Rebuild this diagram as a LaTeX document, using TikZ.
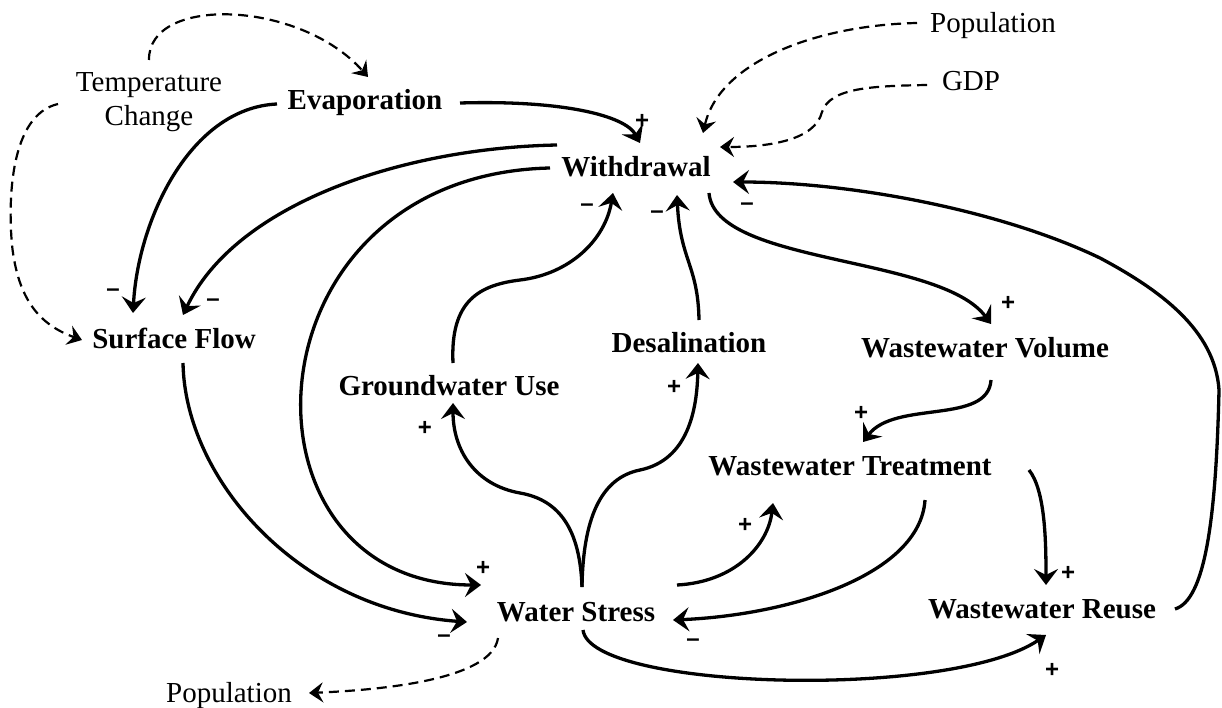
\documentclass[tikz,border=0pt]{standalone}
\usepackage{fontspec}
\setmainfont{Liberation Serif}
\newfontfamily\signfont{Liberation Sans}
\usetikzlibrary{arrows.meta,calc}
\tikzset{
  lbl/.style={inner sep=0pt, anchor=base, font=\fontsize{29}{34}\selectfont\bfseries},
  ext/.style={inner sep=0pt, anchor=base, font=\fontsize{29}{34}\selectfont},
  sgn/.style={inner sep=0pt, font=\signfont\fontsize{24}{24}\selectfont\bfseries},
  link/.style={line width=3.3pt, -{Stealth[length=16pt,width=24pt,inset=6pt]}},
  dlink/.style={line width=2.2pt, dash pattern=on 10pt off 6pt, -{Stealth[length=14pt,width=20pt,inset=5pt]}}
}
\begin{document}
\begin{tikzpicture}[x=1pt,y=-1pt]
\useasboundingbox (0,0) rectangle (1222,708);
% nodes
\node[ext, anchor=center, align=center] (tc) at (149,102) {Temperature\\Change};
\node[lbl] (ev) at (365,110) {Evaporation};
\node[lbl] (wd) at (636,177) {Withdrawal};
\node[lbl] (sf) at (174,348) {Surface Flow};
\node[lbl] (gw) at (449,395) {Groundwater Use};
\node[lbl] (de) at (689,352) {Desalination};
\node[lbl] (wv) at (985,357) {Wastewater Volume};
\node[lbl] (wt) at (850,475) {Wastewater Treatment};
\node[lbl] (wr) at (1042,618) {Wastewater Reuse};
\node[lbl] (ws) at (576,621) {Water Stress};
\node[ext] (popb) at (229,702) {Population};
\node[ext] (popt) at (993,33) {Population};
\node[ext] (gdp) at (971,91) {GDP};
% dashed links
\draw[dlink] ($(tc.center)+(0,-42)$) .. controls (148,-5) and (300,0) .. ($(ev.base)+(3,-33)$);
\draw[dlink] ($(tc.center)+(-91,2)$) .. controls (10,115) and (8,200) .. (12,245) .. controls (18,300) and (40,325) .. ($(sf.base)+(-92,-8)$);
\draw[dlink] ($(popt.base)+(-76,-10)$) .. controls (820,25) and (720,60) .. ($(wd.base)+(67,-44)$);
\draw[dlink] ($(gdp.base)+(-44,-6)$) .. controls (870,86) and (830,88) .. (822,112) .. controls (815,140) and (770,147) .. ($(wd.base)+(84,-30)$);
\draw[dlink] ($(ws.base)+(-78,17)$) .. controls (492,680) and (380,690) .. ($(popb.base)+(80,-9)$);
% solid links
\draw[link] ($(ev.base)+(95,-7)$) .. controls (560,100) and (625,115) .. ($(wd.base)+(4,-34)$);
\draw[link] ($(ev.base)+(-88,-6)$) .. controls (190,108) and (138,220) .. ($(sf.base)+(-41,-35)$);
\draw[link] ($(wd.base)+(-79,-32)$) .. controls (400,148) and (235,205) .. ($(sf.base)+(9,-33)$);
\draw[link] ($(wd.base)+(-86,-9)$) .. controls (240,175) and (225,585) .. ($(ws.base)+(-95,-36)$);
\draw[link] ($(sf.base)+(9,15)$) .. controls (185,480) and (300,610) .. ($(ws.base)+(-109,1)$);
\draw[link] ($(wd.base)+(73,16)$) .. controls (715,265) and (940,255) .. ($(wv.base)+(6,-33)$);
\draw[link] ($(wr.base)+(133,-9)$) .. controls (1205,600) and (1216,520) .. (1219,390) .. controls (1215,330) and (1160,290) .. (1100,258) .. controls (1000,210) and (850,182) .. ($(wd.base)+(97,5)$);
\draw[link] ($(gw.base)+(4,-32)$) .. controls (450,300) and (480,285) .. (520,280) .. controls (570,274) and (605,240) .. ($(wd.base)+(-23,16)$);
\draw[link] ($(de.base)+(10,-32)$) .. controls (698,265) and (680,260) .. ($(wd.base)+(41,18)$);
\draw[link] ($(ws.base)+(6,-34)$) .. controls (580,530) and (560,500) .. (520,493) .. controls (475,485) and (453,450) .. ($(gw.base)+(4,8)$);
\draw[link] ($(ws.base)+(6,-34)$) .. controls (583,520) and (600,478) .. (640,470) .. controls (688,460) and (697,410) .. ($(de.base)+(9,11)$);
\draw[link] ($(ws.base)+(101,-36)$) .. controls (735,582) and (768,545) .. ($(wt.base)+(-77,28)$);
\draw[link] ($(wt.base)+(75,25)$) .. controls (920,575) and (790,615) .. ($(ws.base)+(97,-1)$);
\draw[link] ($(wv.base)+(6,23)$) .. controls (988,425) and (895,400) .. ($(wt.base)+(13,-33)$);
\draw[link] ($(wt.base)+(179,-5)$) .. controls (1045,490) and (1046,540) .. ($(wr.base)+(4,-33)$);
\draw[link] ($(ws.base)+(7,9)$) .. controls (590,690) and (950,700) .. ($(wr.base)+(4,17)$);
% polarity signs
\node[sgn] (s1) at (642,121) {+};
\node[sgn] (s2) at (113,293) {–};
\node[sgn] (s3) at (213,303) {–};
\node[sgn] (s4) at (587,208) {–};
\node[sgn] (s5) at (657,215) {–};
\node[sgn] (s6) at (747,207) {–};
\node[sgn] (s7) at (1008,303) {+};
\node[sgn] (s8) at (861,413) {+};
\node[sgn] (s9) at (425,428) {+};
\node[sgn] (s10) at (674,387) {+};
\node[sgn] (s11) at (745,525) {+};
\node[sgn] (s12) at (1068,573) {+};
\node[sgn] (s13) at (1052,670) {+};
\node[sgn] (s14) at (693,643) {–};
\node[sgn] (s15) at (483,568) {+};
\node[sgn] (s16) at (444,639) {–};
\end{tikzpicture}
\end{document}
